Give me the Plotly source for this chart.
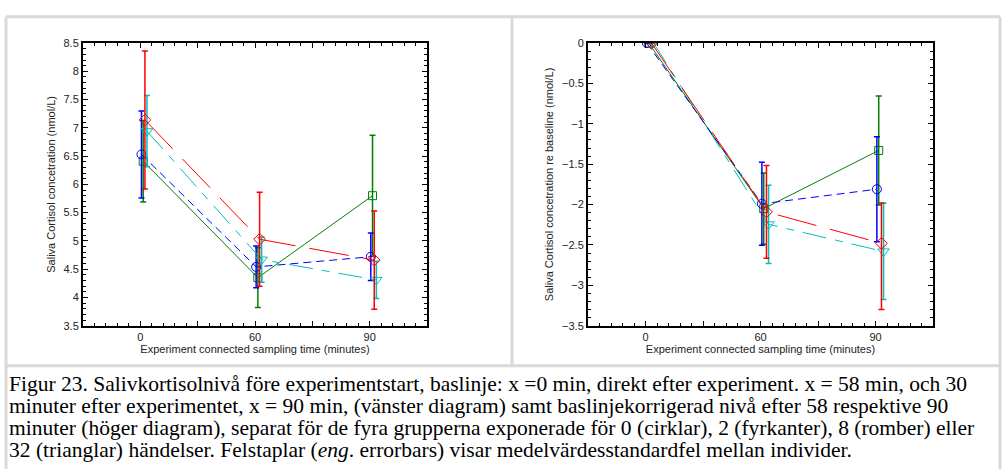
import plotly.graph_objects as go

# ---------------- data ----------------
x_pos = [1, 2, 3]
x_labels = ["0", "60", "90"]

# left panel: absolute saliva cortisol (nmol/L), mean and SE
blue_abs = [6.53, 4.54, 4.72]
blue_abs_err = [0.77, 0.37, 0.42]
green_abs = [6.41, 4.35, 5.80]
green_abs_err = [0.72, 0.53, 1.07]
red_abs = [7.14, 5.03, 4.66]
red_abs_err = [1.22, 0.83, 0.87]
cyan_abs = [6.94, 4.67, 4.31]
cyan_abs_err = [0.63, 0.40, 0.33]

# right panel: relative to baseline
blue_rel = [0.0, -1.99, -1.81]
blue_rel_err = [0.0, 0.515, 0.65]
green_rel = [0.0, -2.05, -1.33]
green_rel_err = [0.0, 0.44, 0.675]
red_rel = [0.0, -2.09, -2.48]
red_rel_err_plus = [0.0, 0.575, 0.50]
red_rel_err_minus = [0.0, 0.575, 0.82]
cyan_rel = [0.0, -2.245, -2.58]
cyan_rel_err = [0.0, 0.485, 0.595]

caption_lines = [
    "Figur 23. Salivkortisolnivå före experimentstart, baslinje: x =0 min, direkt efter experiment. x = 58 min, och 30",
    "minuter efter experimentet, x = 90 min, (vänster diagram) samt baslinjekorrigerad nivå efter 58 respektive 90",
    "minuter (höger diagram), separat för de fyra grupperna exponerade för 0 (cirklar), 2 (fyrkanter), 8 (romber) eller",
    "32 (trianglar) händelser. Felstaplar (<i>eng</i>. errorbars) visar medelvärdesstandardfel mellan individer.",
]

# small horizontal jitter per group (in category units)
jit_left = {"blue": 0.01, "green": 0.025, "red": 0.04, "cyan": 0.058}
jit_right = {"blue": 0.012, "green": 0.028, "red": 0.052, "cyan": 0.07}

colors = {"blue": "#0000FF", "green": "#008000", "red": "#FF0000", "cyan": "#00BFBF"}
symbols = {"blue": "circle-open", "green": "square-open", "red": "diamond-open", "cyan": "triangle-down-open"}
dashes = {"blue": "8px,5px", "green": "solid", "red": "40px,14px", "cyan": "24px,9px,8px,9px"}
sizes = {"blue": 9, "green": 8, "red": 9, "cyan": 10}

W, H = 1004, 475


def add_series(fig, key, ys, err_plus, err_minus, jit, xa, ya):
    xs = [p + jit[key] for p in x_pos]
    fig.add_trace(go.Scatter(
        x=xs, y=ys, mode="lines+markers",
        line=dict(color=colors[key], width=1, dash=dashes[key]),
        marker=dict(symbol=symbols[key], size=sizes[key], color=colors[key],
                    line=dict(color=colors[key], width=1)),
        error_y=dict(type="data", symmetric=False, array=err_plus, arrayminus=err_minus,
                     color=colors[key], thickness=1.5, width=3),
        xaxis=xa, yaxis=ya, showlegend=False, hoverinfo="x+y"))


fig = go.Figure()
for key, ys, e in [("green", green_abs, green_abs_err), ("blue", blue_abs, blue_abs_err),
                   ("cyan", cyan_abs, cyan_abs_err), ("red", red_abs, red_abs_err)]:
    add_series(fig, key, ys, e, e, jit_left, "x", "y")
for key, ys, ep, em in [("cyan", cyan_rel, cyan_rel_err, cyan_rel_err),
                        ("green", green_rel, green_rel_err, green_rel_err),
                        ("blue", blue_rel, blue_rel_err, blue_rel_err),
                        ("red", red_rel, red_rel_err_plus, red_rel_err_minus)]:
    add_series(fig, key, ys, ep, em, jit_right, "x2", "y2")

tick_font = dict(family="Liberation Sans, Arial", size=11, color="#222")
title_font = dict(family="Liberation Sans, Arial", size=11, color="#222")

xticks = [0.5, 1, 1.5, 2, 2.5, 3]
xtext = ["", x_labels[0], "", x_labels[1], "", x_labels[2]]

common_x = dict(range=[0.5, 3.5], tickvals=xticks, ticktext=xtext, ticks="inside",
                ticklen=5, tickwidth=1, tickcolor="black", showline=True, linewidth=2,
                linecolor="black", mirror="allticks", showgrid=False, zeroline=False,
                tickfont=tick_font,
                minor=dict(dtick=0.1, tick0=0.5, ticks="inside", ticklen=3, tickwidth=1,
                           tickcolor="black", showgrid=False),
                title=dict(text="Experiment connected sampling time (minutes)", font=title_font,
                           standoff=3))
common_y = dict(ticks="inside", ticklen=5, tickwidth=1, tickcolor="black", showline=True,
                linewidth=2, linecolor="black", mirror="allticks", showgrid=False,
                zeroline=False, tickfont=tick_font, dtick=0.5,
                minor=dict(dtick=0.1, ticks="inside", ticklen=3, tickwidth=1,
                           tickcolor="black", showgrid=False))

L1, R1 = 83, 427
L2, R2 = 588, 933
T, B = 38, 328

fig.update_layout(
    width=W, height=H, margin=dict(l=0, r=0, t=0, b=0),
    paper_bgcolor="white", plot_bgcolor="white",
    xaxis=dict(domain=[L1 / W, R1 / W], anchor="y", **common_x),
    yaxis=dict(domain=[1 - B / H, 1 - T / H], anchor="x", range=[3.5, 8.5], tick0=3.5,
               title=dict(text="Saliva Cortisol concetration (nmol/L)", font=title_font, standoff=6),
               **common_y),
    xaxis2=dict(domain=[L2 / W, R2 / W], anchor="y2", **common_x),
    yaxis2=dict(domain=[1 - B / H, 1 - T / H], anchor="x2", range=[-3.5, 0], tick0=-3.5,
                title=dict(text="Saliva Cortisol concetration re baseline (nmol/L)", font=title_font,
                           standoff=6),
                **common_y),
)

# table-like grey borders around panels and caption
grey = "#D9D9D9"
def px_line(x0, y0, x1, y1, w=3):
    fig.add_shape(type="line", xref="paper", yref="paper",
                  x0=x0 / W, x1=x1 / W, y0=1 - y0 / H, y1=1 - y1 / H,
                  line=dict(color=grey, width=w), layer="below")

px_line(6, 11, 1000, 11)
px_line(6, 369, 1000, 369)
px_line(6, 11, 6, 475)
px_line(512, 11, 512, 369)
px_line(1000, 11, 1000, 475)

line_y = [388, 410.5, 433, 455.5]
for txt, yy in zip(caption_lines, line_y):
    fig.add_annotation(text=txt, xref="paper", yref="paper", x=7 / W, y=1 - yy / H,
                       xanchor="left", yanchor="middle", align="left", showarrow=False,
                       font=dict(family="Liberation Serif, Times New Roman", size=21.5, color="black"))

fig.write_html("out.html")
